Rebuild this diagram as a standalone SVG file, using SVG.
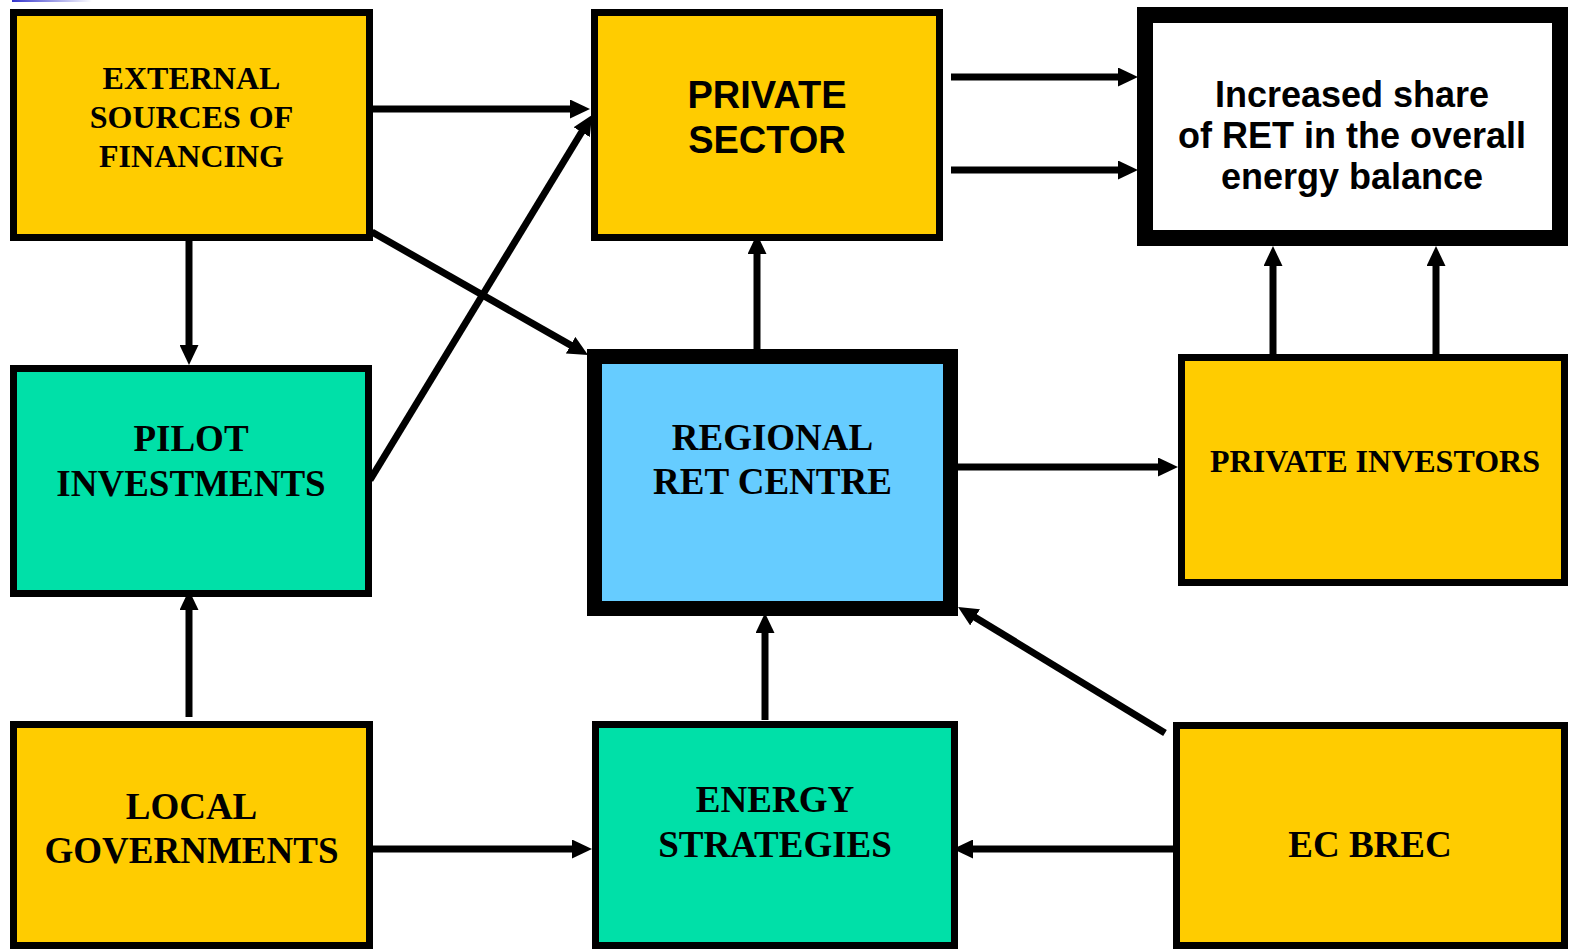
<svg xmlns="http://www.w3.org/2000/svg" width="1569" height="949" viewBox="0 0 1569 949">
<style>
.box{stroke:#000;stroke-width:7}
.thick{stroke-width:15}
.y{fill:#FFCC00}
.g{fill:#00E0A8}
.b{fill:#66CCFF}
.w{fill:#FFFFFF}
.serif{font-family:"Liberation Serif","Times New Roman",serif;font-weight:bold;fill:#000;text-anchor:middle}
.sans{font-family:"Liberation Sans",Arial,sans-serif;font-weight:bold;fill:#000;text-anchor:middle}
.conn line{stroke:#000;stroke-width:7;fill:none;marker-end:url(#ah)}
</style>
<defs>
<marker id="ah" markerUnits="userSpaceOnUse" markerWidth="20" markerHeight="19" refX="8" refY="9.5" orient="auto">
<path d="M0,0 L20,9.5 L0,19 Z" fill="#000"/>
</marker>
<linearGradient id="bl" x1="0" x2="1" y1="0" y2="0">
<stop offset="0" stop-color="#3333CC"/>
<stop offset="1" stop-color="#3333CC" stop-opacity="0"/>
</linearGradient>
</defs>
<rect x="0" y="0" width="1569" height="949" fill="#FFFFFF"/>
<rect x="12" y="0" width="80" height="2" fill="url(#bl)"/>

<g id="external">
<rect class="box y" x="13.5" y="12.5" width="356" height="225"/>
<text class="serif" font-size="32" x="191.5"><tspan x="191.5" y="89">EXTERNAL</tspan><tspan x="191.5" y="128">SOURCES OF</tspan><tspan x="191.5" y="167">FINANCING</tspan></text>
</g>
<g id="private-sector">
<rect class="box y" x="594.5" y="12.5" width="345" height="225"/>
<text class="sans" font-size="38"><tspan x="767" y="108">PRIVATE</tspan><tspan x="767" y="153">SECTOR</tspan></text>
</g>
<g id="increased-share">
<rect class="box w" style="stroke-width:16" x="1145" y="15" width="415" height="223"/>
<text class="sans" font-size="36"><tspan x="1352" y="107">Increased share</tspan><tspan x="1352" y="148">of RET in the overall</tspan><tspan x="1352" y="189">energy balance</tspan></text>
</g>
<g id="pilot">
<rect class="box g" x="13.5" y="368.5" width="355" height="225"/>
<text class="serif" font-size="37"><tspan x="191" y="451">PILOT</tspan><tspan x="191" y="496">INVESTMENTS</tspan></text>
</g>
<g id="regional">
<rect class="box b thick" x="594.5" y="356.5" width="356" height="252"/>
<text class="serif" font-size="37"><tspan x="772.5" y="450">REGIONAL</tspan><tspan x="772.5" y="494">RET CENTRE</tspan></text>
</g>
<g id="private-investors">
<rect class="box y" x="1181.5" y="357.5" width="383" height="225"/>
<text class="serif" font-size="32" x="1375" y="472">PRIVATE INVESTORS</text>
</g>
<g id="local-gov">
<rect class="box y" x="13.5" y="724.5" width="356" height="221"/>
<text class="serif" font-size="37"><tspan x="191.5" y="819">LOCAL</tspan><tspan x="191.5" y="863">GOVERNMENTS</tspan></text>
</g>
<g id="energy-strategies">
<rect class="box g" x="595.5" y="724.5" width="359" height="221"/>
<text class="serif" font-size="37"><tspan x="775" y="812">ENERGY</tspan><tspan x="775" y="857">STRATEGIES</tspan></text>
</g>
<g id="ec-brec">
<rect class="box y" x="1176.5" y="725.5" width="388" height="220"/>
<text class="serif" font-size="37" x="1370" y="857">EC BREC</text>
</g>

<g id="connectors" class="conn">
<line x1="370" y1="109" x2="578" y2="109"/>
<line x1="372" y1="232" x2="577.6" y2="349.1"/>
<line x1="370" y1="480" x2="585.8" y2="125.3"/>
<line x1="189" y1="241" x2="189" y2="353"/>
<line x1="757" y1="349" x2="757" y2="246"/>
<line x1="951" y1="77" x2="1126" y2="77"/>
<line x1="951" y1="170" x2="1126" y2="170"/>
<line x1="1273" y1="354" x2="1273" y2="258"/>
<line x1="1436" y1="354" x2="1436" y2="258"/>
<line x1="958" y1="467" x2="1166" y2="467"/>
<line x1="189" y1="717" x2="189" y2="602"/>
<line x1="373" y1="849" x2="580" y2="849"/>
<line x1="765" y1="720" x2="765" y2="625"/>
<line x1="1165" y1="733" x2="968.3" y2="613.2"/>
<line x1="1173" y1="849" x2="965" y2="849"/>
</g>
</svg>
